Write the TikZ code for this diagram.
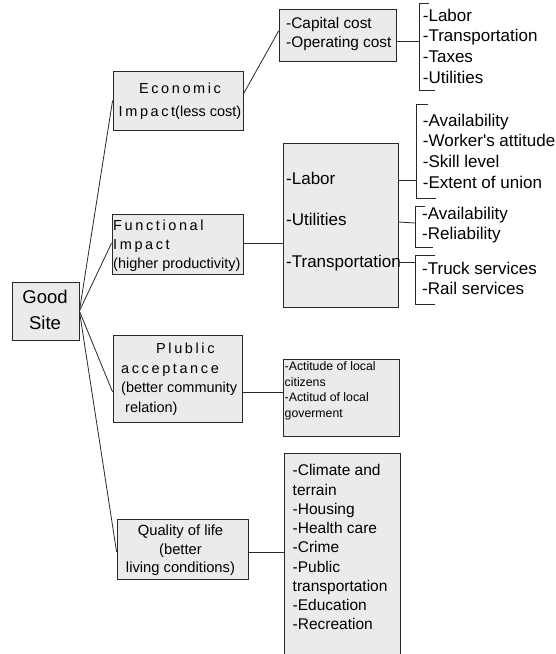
\documentclass[tikz,border=0pt]{standalone}
\usepackage{fontspec}
\setmainfont{Liberation Sans}
\newfontfamily\spc[LetterSpace=18]{Liberation Sans}
\definecolor{boxfill}{RGB}{235,235,235}
\definecolor{edge}{RGB}{40,40,40}
\newcommand\fgood{\fontsize{18.5}{26}\selectfont}
\newcommand\fmain{\fontsize{14.5}{19}\selectfont}
\newcommand\fecon{\fontsize{14.5}{23}\selectfont}
\newcommand\fpub{\fontsize{14.5}{19.7}\selectfont}
\newcommand\fqual{\fontsize{14.75}{18.5}\selectfont}
\newcommand\fcapt{\fontsize{15.4}{19}\selectfont}
\newcommand\fitem{\fontsize{17}{20.7}\selectfont}
\newcommand\fbigl{\fontsize{17}{41.5}\selectfont}
\newcommand\fsmall{\fontsize{12.3}{15.7}\selectfont}
\newcommand\fqi{\fontsize{15.5}{19.25}\selectfont}
\begin{document}
\begin{tikzpicture}[x=1pt,y=-1pt,
  box/.style={draw=edge, fill=boxfill, line width=0.8pt, inner sep=0pt},
  txt/.style={inner sep=0pt, align=left},
  link/.style={draw=edge, line width=0.8pt},
]
\useasboundingbox (0,0) rectangle (555,654);

% boxes
\node[box, minimum width=67pt, minimum height=58pt] (good) at (45.5,311) {};
\node[box, minimum width=130pt, minimum height=59pt] (econ) at (178,100.5) {};
\node[box, minimum width=117pt, minimum height=52pt] (capital) at (337.5,35) {};
\node[box, minimum width=131pt, minimum height=60pt] (func) at (177.5,244) {};
\node[box, minimum width=115pt, minimum height=164pt] (bigfunc) at (340.5,225) {};
\node[box, minimum width=129pt, minimum height=87pt] (public) at (177.5,378.5) {};
\node[box, minimum width=116pt, minimum height=77pt] (actitude) at (341,397.5) {};
\node[box, minimum width=131pt, minimum height=60pt] (quality) at (182.5,549) {};
\node[box, draw=none, minimum width=115.5pt, minimum height=200pt] (qitems) at (342.25,554) {};
\draw[link] (qitems.south west) -- (qitems.north west) -- (qitems.north east) -- (qitems.south east);

% texts
\node[txt, align=center, anchor=north, font=\fgood] (goodT) at (45,285.4) {\strut Good\\\strut Site};
\node[txt, align=center, anchor=north, font=\fecon] (econT) at (180,77.1) {\strut{\spc Economic}\\\strut{\spc Impact}(less cost)};
\node[txt, anchor=north west, font=\fcapt] (capitalT) at (286,15.2) {\strut -Capital cost\\\strut -Operating cost};
\node[txt, anchor=north west, font=\fmain] (funcT) at (113,217) {\strut{\spc Functional}\\\strut{\spc Impact}\\\strut(higher productivity)};
\node[txt, anchor=north west, font=\fbigl] (bigfuncT) at (286,155) {\strut -Labor\\\strut -Utilities\\\strut -Transportation};
\node[txt, anchor=north west, font=\fpub] (publicT) at (113,339.4) {\hspace*{43pt}\strut{\spc Plublic}\\\hspace*{8pt}\strut{\spc acceptance}\\\hspace*{8pt}\strut(better community\\\hspace*{12pt}\strut relation)};
\node[txt, anchor=north west, font=\fsmall] (actitudeT) at (284.5,359.4) {\strut -Actitude of local\\\strut citizens\\\strut -Actitud of local\\\strut goverment};
\node[txt, align=center, anchor=north, font=\fqual] (qualityT) at (180.5,522.4) {\strut Quality of life\\\strut (better\\\strut living conditions)};
\node[txt, anchor=north west, font=\fqi] (qitemsT) at (292.5,462.1) {\strut -Climate and\\\strut terrain\\\strut -Housing\\\strut -Health care\\\strut -Crime\\\strut -Public\\\strut transportation\\\strut -Education\\\strut -Recreation};

% bracket lists
\node[txt, anchor=north west, font=\fitem] (list1) at (422.7,6.6) {\strut -Labor\\\strut -Transportation\\\strut -Taxes\\\strut -Utilities};
\node[txt, anchor=north west, font=\fitem] (list2) at (422.7,111.6) {\strut -Availability\\\strut -Worker\textquotesingle s attitude\\\strut -Skill level\\\strut -Extent of union};
\node[txt, anchor=north west, font=\fitem] (list3) at (422,204.6) {\strut -Availability\\\strut -Reliability};
\node[txt, anchor=north west, font=\fitem] (list4) at (422,259.6) {\strut -Truck services\\\strut -Rail services};

% brackets
\coordinate (b1) at (419,41);
\coordinate (b2) at (416,180);
\coordinate (b3) at (415,223);
\coordinate (b4) at (415,262);
\draw[link] (429,3) -- (419,3) -- (419,90) -- (435,90);
\draw[link] (428,104) -- (416,104) -- (416,198) -- (436,198);
\draw[link] (425,206) -- (415,206) -- (415,247) -- (433,247);
\draw[link] (435,255) -- (415,255) -- (415,304) -- (435,304);

% connectors
\draw[link] (good.east) -- (econ.west);
\draw[link] (good.east) -- ([yshift=1pt]func.west);
\draw[link] (good.east) -- ([yshift=-13.5pt]public.west);
\draw[link] (good.east) -- ([yshift=-3pt]quality.west);
\draw[link] ([yshift=6.5pt]econ.east) -- ([yshift=4pt]capital.west);
\draw[link] ([yshift=-6pt]capital.east) -- (b1);
\draw[link] ([yshift=1pt]func.east) -- ([yshift=1pt]func.east -| bigfunc.west);
\draw[link] ([yshift=45pt]bigfunc.east) -- (b2);
\draw[link] ([yshift=3pt]bigfunc.east) -- (b3);
\draw[link] ([yshift=-37pt]bigfunc.east) -- (b4);
\draw[link] ([yshift=-13.5pt]public.east) -- ([yshift=-13.5pt]public.east -| actitude.west);
\draw[link] ([yshift=-3pt]quality.east) -- ([yshift=-3pt]quality.east -| qitems.west);
\end{tikzpicture}
\end{document}
